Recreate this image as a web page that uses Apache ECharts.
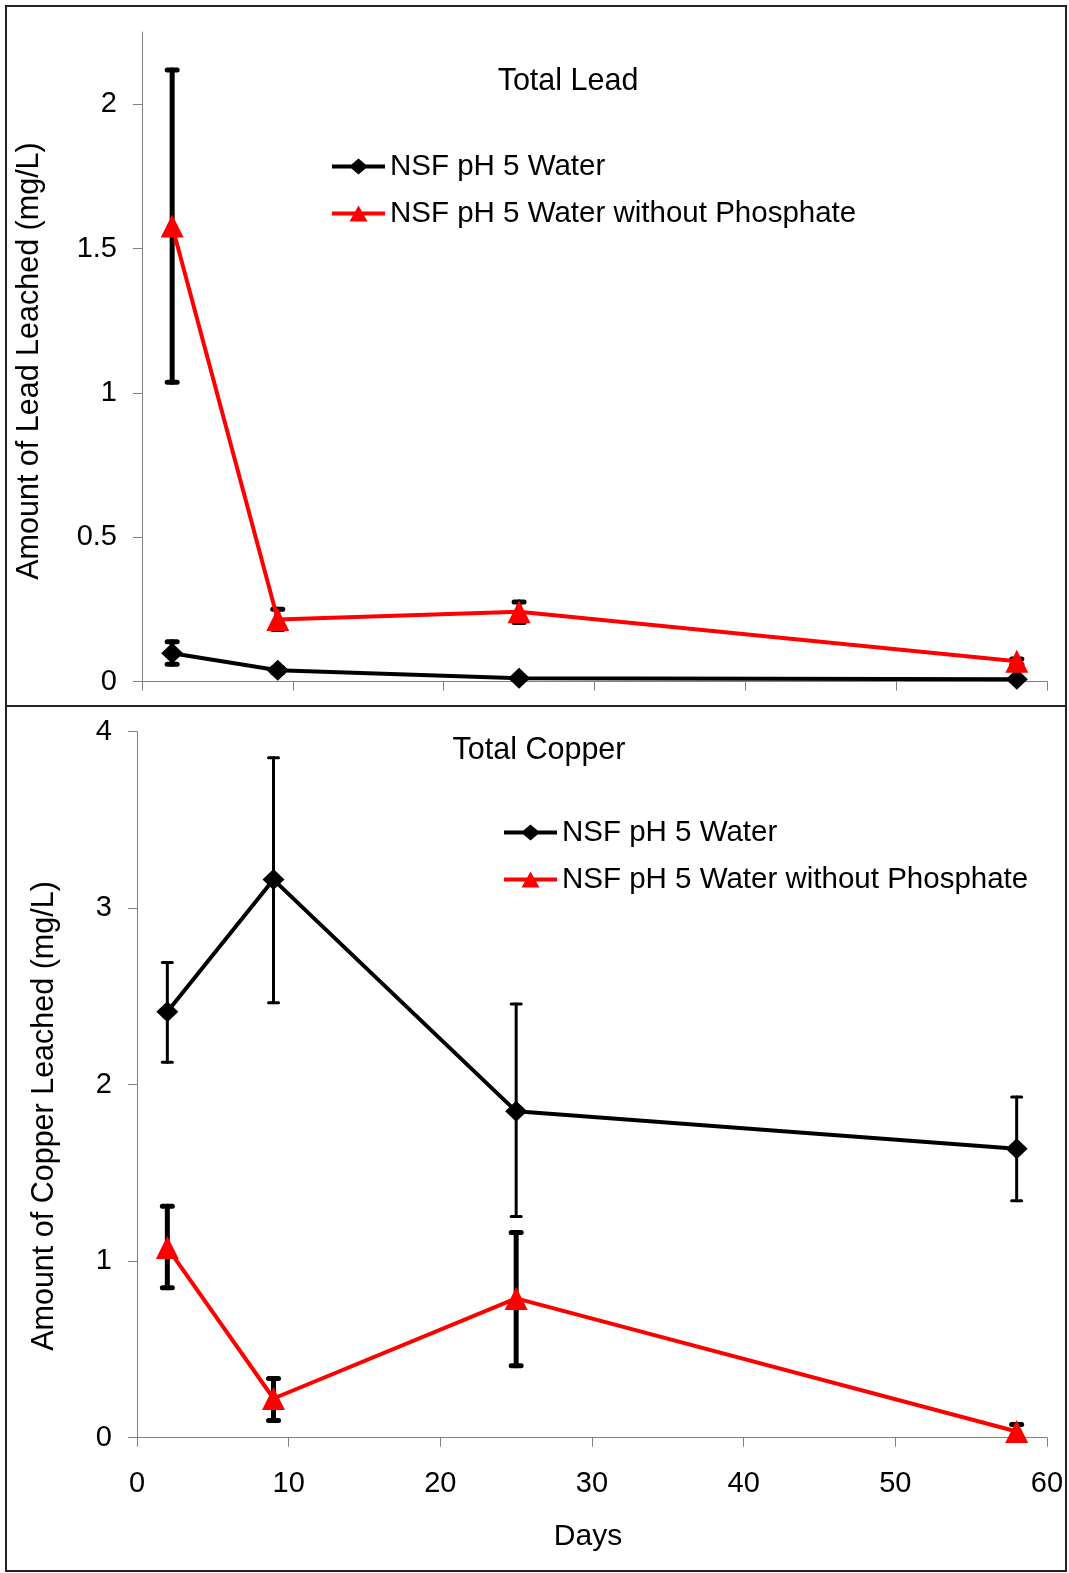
<!DOCTYPE html>
<html><head><meta charset="utf-8">
<script src="https://cdn.jsdelivr.net/npm/echarts@6/dist/echarts.min.js"></script>
<style>html,body{margin:0;padding:0;background:#fff}#c{width:1069px;height:1573px}</style>
</head><body><div id="c"></div>
<script>
// ---- data ----
const days = [2, 9, 25, 58];
const seriesNames = ['NSF pH 5 Water', 'NSF pH 5 Water without Phosphate'];

const leadWater      = [0.098, 0.039, 0.011, 0.008];
const leadWaterLow   = [0.060, 0.030, 0.006, 0.004];
const leadWaterHigh  = [0.138, 0.048, 0.016, 0.012];
const leadNoPhos     = [1.578, 0.215, 0.242, 0.070];
const leadNoPhosLow  = [1.037, 0.180, 0.204, 0.060];
const leadNoPhosHigh = [2.118, 0.250, 0.275, 0.078];

const copperWater      = [2.413, 3.162, 1.849, 1.637];
const copperWaterLow   = [2.127, 2.465, 1.253, 1.343];
const copperWaterHigh  = [2.693, 3.852, 2.457, 1.930];
const copperNoPhos     = [1.077, 0.222, 0.789, 0.035];
const copperNoPhosLow  = [0.849, 0.097, 0.407, 0.000];
const copperNoPhosHigh = [1.311, 0.336, 1.163, 0.075];

const xTicks = [0, 10, 20, 30, 40, 50, 60];
const leadTicks = [0, 0.5, 1, 1.5, 2];
const copperTicks = [0, 1, 2, 3, 4];

// ---- chart ----
const FONT = "'Liberation Sans', Arial, sans-serif";
const chart = echarts.init(document.getElementById('c'), null, {renderer: 'canvas'});

function pairs(vals) { return days.map((d, i) => [d, vals[i]]); }
function triples(lo, hi) { return days.map((d, i) => [d, lo[i], hi[i]]); }

function errRender(lw, cap) {
  return function (params, api) {
    const x = api.value(0), lo = api.value(1), hi = api.value(2);
    const pl = api.coord([x, lo]), ph = api.coord([x, hi]);
    const st = {stroke: '#000', lineWidth: lw, lineCap: 'round', fill: null};
    return {type: 'group', children: [
      {type: 'line', shape: {x1: ph[0], y1: ph[1], x2: pl[0], y2: pl[1]}, style: st},
      {type: 'line', shape: {x1: ph[0] - cap / 2, y1: ph[1], x2: ph[0] + cap / 2, y2: ph[1]}, style: st},
      {type: 'line', shape: {x1: pl[0] - cap / 2, y1: pl[1], x2: pl[0] + cap / 2, y2: pl[1]}, style: st}
    ]};
  };
}

const axisCommon = {
  axisLine: {show: true, lineStyle: {color: '#808080', width: 1}},
  axisTick: {show: true, length: 9, lineStyle: {color: '#808080', width: 1}},
  splitLine: {show: false},
  axisLabel: {color: '#000', fontSize: 29, fontFamily: FONT}
};

function xAxis(gridIndex, showLabels) {
  return Object.assign({}, axisCommon, {
    type: 'value', gridIndex, min: 0, max: 60, interval: 10,
    axisTick: Object.assign({}, axisCommon.axisTick, {customValues: xTicks}),
    axisLabel: Object.assign({}, axisCommon.axisLabel, {show: showLabels, margin: 32, customValues: xTicks})
  });
}
function yAxis(gridIndex, max, ticks) {
  return Object.assign({}, axisCommon, {
    type: 'value', gridIndex, min: 0, max: max,
    axisTick: Object.assign({}, axisCommon.axisTick, {customValues: ticks}),
    axisLabel: Object.assign({}, axisCommon.axisLabel, {margin: 25, customValues: ticks})
  });
}

function lineSeries(name, idx, data, color, symbol, size) {
  return {
    name, type: 'line', xAxisIndex: idx, yAxisIndex: idx, data: pairs(data),
    symbol, symbolSize: size, showAllSymbol: true, z: 5,
    lineStyle: {color, width: 4}, itemStyle: {color},
    emphasis: {disabled: true}
  };
}
function errSeries(idx, lo, hi, lw, cap) {
  return {
    name: 'err' + idx + '_' + lw, type: 'custom', xAxisIndex: idx, yAxisIndex: idx,
    data: triples(lo, hi), encode: {x: 0, y: [1, 2]}, renderItem: errRender(lw, cap), z: 2, silent: true
  };
}

const legendIcons = [
  'path://M0,6L53,6L53,10L0,10Z M17,8L26.5,0L36,8L26.5,16Z',
  'path://M0,6L53,6L53,10L0,10Z M17.5,16L26.5,0L35.5,16Z'
];
const legendCommon = {
  data: seriesNames.map((n, i) => ({name: n, icon: legendIcons[i]})),
  orient: 'vertical', padding: 0,
  itemWidth: 53, itemHeight: 16, itemGap: 17, selectedMode: false,
  textStyle: {fontSize: 29.5, lineHeight: 16, color: '#000', fontFamily: FONT}
};

const option = {
  animation: false,
  backgroundColor: '#fff',
  textStyle: {fontFamily: FONT},
  grid: [
    {left: 142, right: 22, top: 32, height: 649.5},
    {left: 137, right: 22, top: 731.7, height: 706}
  ],
  xAxis: [xAxis(0, false), xAxis(1, true)],
  yAxis: [yAxis(0, 2.25, leadTicks), yAxis(1, 4, copperTicks)],
  legend: [
    Object.assign({}, legendCommon, {left: 332, top: 151.5}),
    Object.assign({}, legendCommon, {left: 504, top: 817.6})
  ],
  series: [
    errSeries(0, leadWaterLow, leadWaterHigh, 5, 10),
    errSeries(0, leadNoPhosLow, leadNoPhosHigh, 5, 10),
    lineSeries(seriesNames[0], 0, leadWater, '#000', 'diamond', [22, 21]),
    lineSeries(seriesNames[1], 0, leadNoPhos, '#ff0000', 'triangle', [23, 23]),
    errSeries(1, copperWaterLow, copperWaterHigh, 3, 10),
    errSeries(1, copperNoPhosLow, copperNoPhosHigh, 5, 10),
    lineSeries(seriesNames[0], 1, copperWater, '#000', 'diamond', [22, 21]),
    lineSeries(seriesNames[1], 1, copperNoPhos, '#ff0000', 'triangle', [23, 23])
  ],
  graphic: [
    {type: 'rect', shape: {x: 6, y: 6, width: 1060, height: 1565}, style: {fill: null, stroke: '#222', lineWidth: 2}, z: 100},
    {type: 'line', shape: {x1: 6, y1: 706, x2: 1066, y2: 706}, style: {stroke: '#222', lineWidth: 2}, z: 100},
    {type: 'text', x: 568, y: 82, style: {text: 'Total Lead', fontSize: 30.5, fontFamily: FONT, fill: '#000', align: 'center', verticalAlign: 'middle'}},
    {type: 'text', x: 539, y: 751, style: {text: 'Total Copper', fontSize: 30.5, fontFamily: FONT, fill: '#000', align: 'center', verticalAlign: 'middle'}},
    {type: 'text', x: 588, y: 1537, style: {text: 'Days', fontSize: 30, fontFamily: FONT, fill: '#000', align: 'center', verticalAlign: 'middle'}},
    {type: 'text', x: 30, y: 361, rotation: Math.PI / 2, style: {text: 'Amount of Lead Leached (mg/L)', fontSize: 30.5, fontFamily: FONT, fill: '#000', align: 'center', verticalAlign: 'middle'}},
    {type: 'text', x: 45, y: 1116, rotation: Math.PI / 2, style: {text: 'Amount of Copper Leached (mg/L)', fontSize: 30.5, fontFamily: FONT, fill: '#000', align: 'center', verticalAlign: 'middle'}}
  ]
};
chart.setOption(option);
</script>
</body></html>
